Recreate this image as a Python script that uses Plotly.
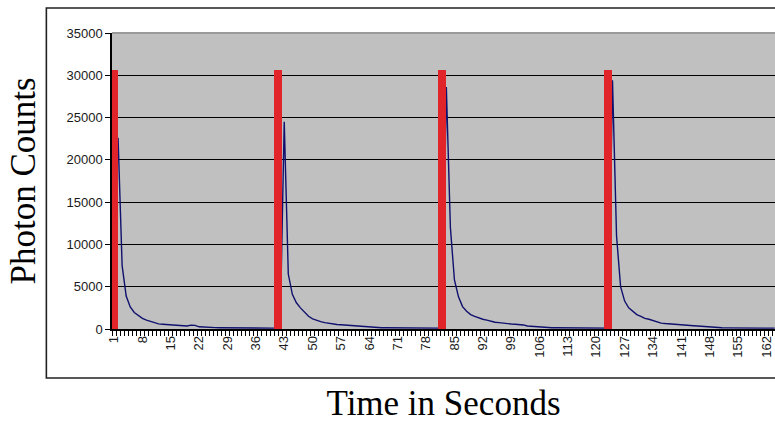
import plotly.graph_objects as go

# ---- data ----
categories = list(range(1, 165))

pulse1 = [None, 22600, 7500, 3900, 2600, 1950, 1550, 1250, 1050, 880, 700, 600, 560, 520,
          500, 480, 460, 400, 360, 460, 430, 260, 220, 200, 180, 160, 150,
          140, 130, 130, 120, 120, 120, 110, 110, 110, 100, 100, 100, 100, 100]          # cats 1-41
pulse2 = [100, 24500, 6500, 4100, 3100, 2500, 1950, 1500, 1200, 1000, 880, 760, 660, 590,
          540, 500, 460, 420, 380, 330, 290, 250, 210, 180, 160,
          150, 140, 130, 130, 120, 120, 110, 110, 110, 100, 100, 100, 100, 100, 100, 100]  # cats 42-82
pulse3 = [28600, 12000, 5800, 3800, 2650, 2100, 1700, 1500, 1300, 1150, 1050, 900, 800,
          750, 680, 620, 590, 560, 520, 480, 350, 300, 250, 200, 170, 150,
          140, 140, 130, 130, 120, 120, 120, 110, 110, 110, 100, 100, 100, 100, 100]      # cats 83-123
pulse4 = [29400, 11000, 5000, 3300, 2500, 2100, 1700, 1500, 1250, 1150, 1000, 800, 700,
          650, 600, 550, 500, 470, 420, 400, 380, 350, 300, 250, 200,
          160, 150, 140, 130, 130, 120, 120, 110, 110, 110, 100, 100, 100, 100, 100, 100]  # cats 124-164
photon_counts = pulse1 + pulse2 + pulse3 + pulse4

pulse_positions = [1.1, 41.4, 81.9, 122.8]
pulse_heights = [30600, 30600, 30600, 30600]

x_tick_labels = list(range(1, 163, 7))
y_ticks = list(range(0, 35001, 5000))

fig = go.Figure()

fig.add_trace(go.Scatter(
    x=categories, y=photon_counts, mode="lines",
    line=dict(color="#10106e", width=1.4), connectgaps=False,
    hoverinfo="skip", showlegend=False,
))

fig.add_trace(go.Bar(
    x=pulse_positions, y=pulse_heights, width=2.0,
    marker=dict(color="#e0242a", line=dict(width=0)),
    xaxis="x2", showlegend=False, hoverinfo="skip",
))

xrange = [0.5, 164.1]
tickfont = dict(family="Liberation Sans, Arial, sans-serif", size=13, color="#1a1a1a")

fig.update_layout(
    width=775, height=423,
    margin=dict(l=112, r=0, t=33, b=94),
    paper_bgcolor="white",
    plot_bgcolor="#c0c0c0",
    bargap=0,
    xaxis=dict(
        range=xrange,
        tickmode="array", tickvals=x_tick_labels, ticktext=[str(v) for v in x_tick_labels],
        tickangle=-90, tickfont=dict(family="Liberation Sans, Arial, sans-serif", size=13, color="#1a1a1a"),
        ticks="", showgrid=False, zeroline=False,
        showline=True, linecolor="black", linewidth=1.5,
        minor=dict(dtick=1, tick0=0.5, ticks="outside", ticklen=5, tickcolor="black", tickwidth=1, showgrid=False),
        title=dict(text="Time in Seconds", standoff=34,
                   font=dict(family="Liberation Serif, Times New Roman, serif", size=35, color="black")),
    ),
    xaxis2=dict(range=xrange, overlaying="x", visible=False),
    yaxis=dict(
        range=[0, 35000], tickmode="array", tickvals=y_ticks, ticktext=[str(v) for v in y_ticks],
        ticks="outside", ticklen=5, tickcolor="black", tickwidth=1,
        tickfont=tickfont, showgrid=True, gridcolor="black", gridwidth=1.3,
        zeroline=False, showline=True, linecolor="black", linewidth=1.5,
        title=dict(text="Photon Counts", standoff=20,
                   font=dict(family="Liberation Serif, Times New Roman, serif", size=35, color="black")),
    ),
    shapes=[
        dict(type="line", xref="paper", yref="paper", x0=0, x1=1, y0=1, y1=1,
             line=dict(color="#9a9a9a", width=2)),
        dict(type="rect", xref="paper", yref="paper", x0=-0.099, x1=1.05, y0=-0.1655, y1=1.0845,
             line=dict(color="#222222", width=1.6), fillcolor="rgba(0,0,0,0)"),
    ],
)

fig.write_html("out.html", config={"displayModeBar": False},
               post_script="document.body.style.margin='0';")
